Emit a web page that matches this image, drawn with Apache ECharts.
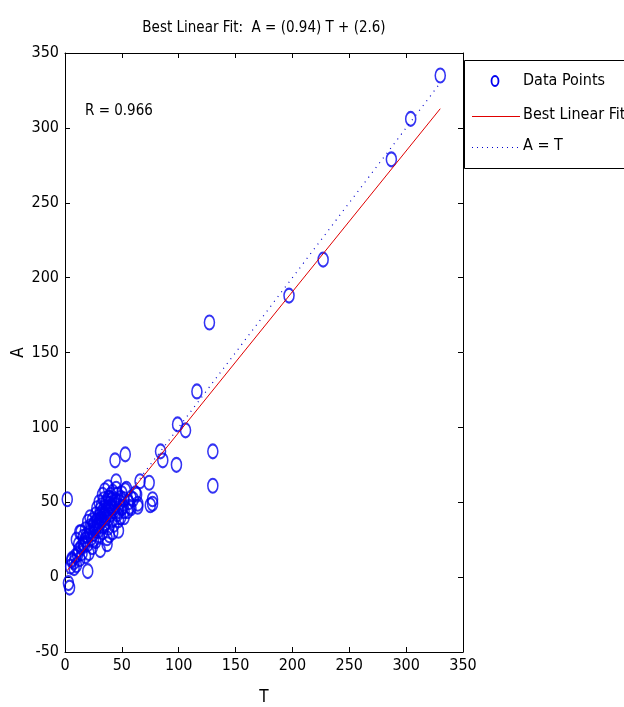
<!DOCTYPE html>
<html>
<head>
<meta charset="utf-8">
<script src="https://cdn.jsdelivr.net/npm/echarts@6/dist/echarts.min.js"></script>
<style>
html,body{margin:0;padding:0;background:#fff;}
#chart{width:624px;height:707px;}
</style>
</head>
<body>
<div id="chart"></div>
<script>
// ---- data ----
var titleText = 'Best Linear Fit:  A = (0.94) T + (2.6)';
var rText = 'R = 0.966';
var xTicks = [0, 50, 100, 150, 200, 250, 300, 350];
var yTicks = [-50, 0, 50, 100, 150, 200, 250, 300, 350];
var fitSlope = 0.94;
var fitIntercept = 2.6;
var legendLabels = ['Data Points', 'Best Linear Fit', 'A = T'];

// targets (T) and outputs (A)
var T = [
  330, 304, 287, 227, 197, 127, 116, 99, 106, 84, 86, 98, 130, 130,
  2, 44, 53, 3, 4,
  74, 77, 77, 75, 66, 64, 64, 62, 58, 54, 45, 45, 38, 38, 52, 55, 47, 47, 42, 50, 45, 37, 31, 20, 10, 6,
  5, 6, 8, 9, 10, 11, 12, 13, 14, 14, 15, 16, 17, 18, 18, 19, 20, 20, 21, 22, 23, 23, 24, 25, 25, 26,
  27, 27, 28, 29, 29, 30, 30, 31, 31, 32, 32, 33, 33, 34, 34, 35, 35, 36, 36, 37, 38, 38, 39, 39, 40,
  40, 41, 41, 42, 43, 43, 44, 46, 46, 48, 49, 50, 51, 52, 53, 56, 57, 60, 63,
  27, 24, 22, 30, 33, 35, 28, 18, 37, 42, 52, 58, 13, 20, 22,
  26, 29, 32, 34, 36, 39, 41, 44, 47, 49, 31, 35, 38, 40, 43, 25, 28, 16, 12, 8
];
var A = [
  335, 306, 279, 212, 188, 170, 124, 102, 98, 84, 78, 75, 84, 61,
  52, 78, 82, -4, -7,
  63, 52, 49, 48, 64, 49, 47, 56, 53, 59, 64, 59, 60, 53, 52, 44, 38, 31, 46, 46, 51, 22, 18, 4, 25, 11,
  7, 12, 10, 14, 8, 15, 18, 12, 20, 30, 16, 22, 21, 25, 14, 28, 22, 27, 16, 30, 26, 33, 20, 35, 29, 36,
  31, 24, 38, 31, 40, 34, 28, 42, 45, 37, 39, 44, 30, 41, 34, 47, 36, 40, 50, 43, 46, 33, 49, 28, 55,
  42, 38, 52, 57, 44, 35, 48, 42, 55, 50, 40, 56, 47, 44, 58, 50, 47, 52, 55,
  42, 38, 34, 50, 55, 58, 46, 32, 26, 30, 40, 46, 30, 37, 40,
  33, 35, 48, 52, 45, 53, 47, 52, 44, 53, 39, 42, 39, 47, 50, 25, 34, 27, 22, 6
];

var fontFam = '"Liberation Sans Narrow", "DejaVu Sans Condensed", "Liberation Sans", sans-serif';
var ellipsePath = 'path://M10,0 A10,10 0 1,1 10,20 A10,10 0 1,1 10,0 Z';

var points = T.map(function (t, i) { return [t, A[i]]; });
var tMin = Math.min.apply(null, T);
var tMax = Math.max.apply(null, T);
var fitLine = [[tMin, fitSlope * tMin + fitIntercept], [tMax, fitSlope * tMax + fitIntercept]];
var idLine = [[tMin, tMin], [tMax, tMax]];

var chart = echarts.init(document.getElementById('chart'), null, {renderer: 'canvas'});

var axisCommon = {
  type: 'value',
  axisLine: {show: true, onZero: false, lineStyle: {color: '#000', width: 1}},
  axisTick: {show: true, inside: true, length: 5, lineStyle: {color: '#000', width: 1}},
  splitLine: {show: false}
};

var xMain = Object.assign({}, axisCommon, {
  min: xTicks[0], max: xTicks[xTicks.length - 1], interval: xTicks[1] - xTicks[0],
  position: 'bottom',
  name: 'T', nameLocation: 'middle', nameGap: 37, nameMoveOverlap: false,
  nameTextStyle: {color: '#000', fontFamily: fontFam, fontSize: 17},
  axisLabel: {color: '#000', fontFamily: fontFam, fontSize: 16, margin: 6}
});
var xTop = Object.assign({}, axisCommon, {
  min: xTicks[0], max: xTicks[xTicks.length - 1], interval: xTicks[1] - xTicks[0],
  position: 'top', axisLabel: {show: false}
});
var yMain = Object.assign({}, axisCommon, {
  min: yTicks[0], max: yTicks[yTicks.length - 1], interval: yTicks[1] - yTicks[0],
  position: 'left',
  name: 'A', nameLocation: 'middle', nameGap: 38, nameMoveOverlap: false,
  nameTextStyle: {color: '#000', fontFamily: fontFam, fontSize: 17},
  axisLabel: {color: '#000', fontFamily: fontFam, fontSize: 16, margin: 6}
});
var yRight = Object.assign({}, axisCommon, {
  min: yTicks[0], max: yTicks[yTicks.length - 1], interval: yTicks[1] - yTicks[0],
  position: 'right', axisLabel: {show: false}
});

var legendX = 464, legendY = 60;
var option = {
  animation: false,
  backgroundColor: '#fff',
  grid: {left: 65, right: 161, top: 53, bottom: 55, containLabel: false, outerBoundsMode: 'none'},
  xAxis: [xMain, xTop],
  yAxis: [yMain, yRight],
  series: [
    {
      type: 'scatter', xAxisIndex: 0, yAxisIndex: 0,
      data: points,
      symbol: ellipsePath, symbolSize: [10, 14],
      itemStyle: {color: 'rgba(0,0,0,0)', borderColor: '#0000f0', borderWidth: 1.8},
      emphasis: {disabled: true},
      z: 2
    },
    {
      type: 'line', xAxisIndex: 0, yAxisIndex: 0,
      data: idLine, showSymbol: false, symbol: 'none',
      lineStyle: {color: '#0000cc', width: 1.2, type: [1, 5]},
      z: 3
    },
    {
      type: 'line', xAxisIndex: 0, yAxisIndex: 0,
      data: fitLine, showSymbol: false, symbol: 'none',
      lineStyle: {color: '#e00000', width: 1},
      z: 4
    }
  ],
  graphic: [
    {type: 'text', x: 264, y: 28, style: {text: titleText, fill: '#000', font: '15px ' + fontFam, textAlign: 'center', verticalAlign: 'middle'}},
    {type: 'text', x: 85, y: 111, style: {text: rText, fill: '#000', font: '15px ' + fontFam, verticalAlign: 'middle'}},
    {type: 'rect', shape: {x: legendX + 0.5, y: legendY + 0.5, width: 180, height: 108}, style: {fill: '#fff', stroke: '#000', lineWidth: 1}, z: 10},
    {type: 'ellipse', shape: {cx: 495, cy: 81, rx: 3.5, ry: 5}, style: {fill: 'none', stroke: '#0000f0', lineWidth: 1.8}, z: 11},
    {type: 'text', x: 523, y: 81, style: {text: legendLabels[0], fill: '#000', font: '16px ' + fontFam, verticalAlign: 'middle'}, z: 11},
    {type: 'line', shape: {x1: 472, y1: 116.5, x2: 520, y2: 116.5}, style: {stroke: '#e00000', lineWidth: 1.2}, z: 11},
    {type: 'text', x: 523, y: 115, style: {text: legendLabels[1], fill: '#000', font: '16px ' + fontFam, verticalAlign: 'middle'}, z: 11},
    {type: 'line', shape: {x1: 472, y1: 147.5, x2: 520, y2: 147.5}, style: {stroke: '#0000cc', lineWidth: 1.2, lineDash: [1, 4]}, z: 11},
    {type: 'text', x: 523, y: 146, style: {text: legendLabels[2], fill: '#000', font: '16px ' + fontFam, verticalAlign: 'middle'}, z: 11}
  ]
};
chart.setOption(option);
</script>
</body>
</html>
